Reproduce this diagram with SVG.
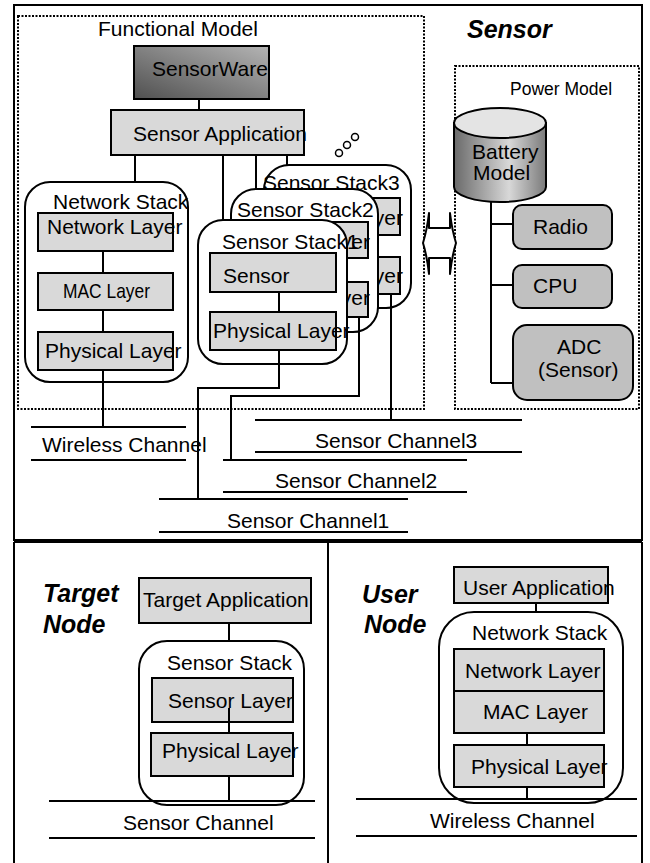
<svg xmlns="http://www.w3.org/2000/svg" width="650" height="863" viewBox="0 0 650 863">
<defs>
<style>
.frame{fill:none;stroke:#000;stroke-width:2}
.dot{fill:none;stroke:#000;stroke-width:2;stroke-dasharray:2 1.5}
.layer{fill:#d9d9d9;stroke:#000;stroke-width:2}
.stack{fill:#fff;stroke:#000;stroke-width:2}
.pw{fill:#c0c0c0;stroke:#000;stroke-width:2}
.t{font-family:"Liberation Sans",Arial,sans-serif;font-size:21px;fill:#000}
.bi{font-weight:bold;font-style:italic;font-size:25px}
.c{stroke:#000;stroke-width:2;fill:none}
</style>
<linearGradient id="gw" x1="1" y1="0" x2="0" y2="1">
<stop offset="0" stop-color="#b4b4b4"/>
<stop offset="1" stop-color="#505050"/>
</linearGradient>
<linearGradient id="gb" x1="0" y1="0" x2="1" y2="0">
<stop offset="0" stop-color="#6a6a6a"/>
<stop offset="0.6" stop-color="#d8d8d8"/>
<stop offset="1" stop-color="#7a7a7a"/>
</linearGradient>
</defs>
<rect width="650" height="863" fill="#fff"/>

<g id="frames">
<rect class="frame" x="14" y="5" width="628" height="535"/>
<path class="frame" d="M14,542 H642 M14,542 V863 M328,542 V863 M642,542 V863"/>
<rect id="functional-model" class="dot" x="18" y="16" width="406" height="393"/>
<rect id="power-model" class="dot" x="455" y="66" width="184" height="343"/>
<text class="t" x="98" y="36">Functional Model</text>
<text class="t bi" x="467" y="38">Sensor</text>
<text class="t" x="510" y="95" style="font-size:17.5px">Power Model</text>
<text class="t bi" x="43" y="602">Target</text>
<text class="t bi" x="43" y="633">Node</text>
<text class="t bi" x="362" y="603">User</text>
<text class="t bi" x="364" y="633">Node</text>
</g>

<g id="sensorware">
<rect x="134" y="46" width="135" height="53" fill="url(#gw)" stroke="#000" stroke-width="2"/>
<text class="t" x="152" y="76">SensorWare</text>
</g>
<g id="sensor-application">
<rect class="layer" x="111" y="110" width="193" height="45"/>
<text class="t" x="133" y="141">Sensor Application</text>
</g>

<g id="network-stack">
<rect class="stack" x="25" y="182" width="163" height="200" rx="25"/>
<text class="t" x="53" y="209">Network Stack</text>
<rect class="layer" x="38" y="213" width="135" height="38"/>
<text class="t" x="47" y="234">Network Layer</text>
<rect class="layer" x="38" y="273" width="135" height="37"/>
<text class="t" x="63" y="298" textLength="87" lengthAdjust="spacingAndGlyphs">MAC Layer</text>
<rect class="layer" x="38" y="332" width="135" height="38"/>
<text class="t" x="45" y="358">Physical Layer</text>
</g>

<g id="sensor-stack3">
<rect class="stack" x="264" y="165" width="147" height="143" rx="25"/>
<text class="t" x="263" y="190">Sensor Stack3</text>
<rect class="layer" x="290" y="198" width="110" height="37"/>
<text class="t" x="403" y="225" text-anchor="end">Sensor Layer</text>
<rect class="layer" x="290" y="257" width="110" height="37"/>
<text class="t" x="403" y="283" text-anchor="end">Physical Layer</text>
</g>
<g id="sensor-stack2">
<rect class="stack" x="231" y="189" width="147" height="143" rx="25"/>
<text class="t" x="237" y="217">Sensor Stack2</text>
<rect class="layer" x="250" y="222" width="118" height="36"/>
<text class="t" x="370" y="249" text-anchor="end">Sensor Layer</text>
<rect class="layer" x="250" y="282" width="118" height="35"/>
<text class="t" x="370" y="305" text-anchor="end">Physical Layer</text>
</g>
<g id="sensor-stack1">
<rect class="stack" x="198" y="220" width="149" height="144" rx="25"/>
<rect class="layer" x="210" y="253" width="126" height="39"/>
<text class="t" x="223" y="283">Sensor</text>
<rect class="layer" x="210" y="312" width="126" height="38"/>
<text class="t" x="213" y="338">Physical Layer</text>
<text class="t" x="222" y="249">Sensor Stack1</text>
</g>
<g id="more-stacks">
<circle cx="339" cy="153" r="3.5" fill="#fff" stroke="#000" stroke-width="1.5"/>
<circle cx="347" cy="145" r="3.5" fill="#fff" stroke="#000" stroke-width="1.5"/>
<circle cx="355" cy="137" r="3.5" fill="#fff" stroke="#000" stroke-width="1.5"/>
</g>

<g id="exchange-arrow">
<path d="M429,213 V228 H450 V213 Q452,230 456,243 Q452,256 450,274 V258 H429 V274 Q427,256 423,243 Q427,230 429,213 Z" fill="#fff" stroke="#000" stroke-width="2" stroke-linejoin="round"/>
</g>

<g id="battery-model">
<path d="M454,123 V187 A46,15 0 0 0 546,187 V123 Z" fill="url(#gb)" stroke="#000" stroke-width="2"/>
<ellipse cx="500" cy="123" rx="46" ry="15" fill="#e4e4e4" stroke="#000" stroke-width="2"/>
<text class="t" x="472" y="159">Battery</text>
<text class="t" x="473" y="180">Model</text>
</g>
<g id="radio">
<rect class="pw" x="513" y="205" width="99" height="44" rx="9"/>
<text class="t" x="533" y="234">Radio</text>
</g>
<g id="cpu">
<rect class="pw" x="513" y="265" width="99" height="43" rx="9"/>
<text class="t" x="533" y="293">CPU</text>
</g>
<g id="adc">
<rect class="pw" x="513" y="325" width="120" height="75" rx="14"/>
<text class="t" x="557" y="354">ADC</text>
<text class="t" x="538" y="377">(Sensor)</text>
</g>

<g id="channels">
<path class="c" d="M31,427 H186 M31,460 H186"/>
<text class="t" x="42" y="452">Wireless Channel</text>
<path class="c" d="M255,420 H522 M255,452 H522"/>
<text class="t" x="315" y="448">Sensor Channel3</text>
<path class="c" d="M223,460 H467 M223,492 H467"/>
<text class="t" x="275" y="488">Sensor Channel2</text>
<path class="c" d="M159,499 H408 M159,532 H408"/>
<text class="t" x="227" y="528">Sensor Channel1</text>
</g>

<g id="target-node">
<rect class="layer" x="139" y="578" width="172" height="45"/>
<text class="t" x="143" y="607">Target Application</text>
<rect class="stack" x="139" y="641" width="165" height="164" rx="28"/>
<text class="t" x="167" y="670">Sensor Stack</text>
<rect class="layer" x="152" y="678" width="141" height="44"/>
<text class="t" x="168" y="708">Sensor Layer</text>
<rect class="layer" x="151" y="733" width="142" height="43"/>
<text class="t" x="162" y="758">Physical Layer</text>
<path class="c" d="M49,801 H315 M49,838 H315"/>
<text class="t" x="123" y="830">Sensor Channel</text>
</g>

<g id="user-node">
<rect class="layer" x="454" y="567" width="154" height="36"/>
<text class="t" x="463" y="595">User Application</text>
<rect class="stack" x="439" y="612" width="184" height="191" rx="35"/>
<text class="t" x="472" y="640">Network Stack</text>
<rect class="layer" x="454" y="649" width="150" height="42"/>
<text class="t" x="465" y="678">Network Layer</text>
<rect class="layer" x="454" y="691" width="150" height="42"/>
<text class="t" x="483" y="719">MAC Layer</text>
<rect class="layer" x="454" y="745" width="150" height="42"/>
<text class="t" x="471" y="774">Physical Layer</text>
<path class="c" d="M356,799 H637 M356,836 H637"/>
<text class="t" x="430" y="828">Wireless Channel</text>
</g>

<g id="connectors">
<path class="c" d="M199,99 V110"/>
<path class="c" d="M135,155 V182"/>
<path class="c" d="M223,155 V220"/>
<path class="c" d="M256,155 V189"/>
<path class="c" d="M287,155 V165"/>
<path class="c" d="M103,251 V273 M103,310 V332 M103,370 V427"/>
<path class="c" d="M279,292 V312 M279,350 V388 H198 V499"/>
<path class="c" d="M359,317 V396 H231 V460"/>
<path class="c" d="M391,294 V420"/>
<path class="c" d="M491,202 V383 M491,224 H513 M491,285 H513 M491,383 H513"/>
<path class="c" d="M229,623 V641 M229,708 V733 M229,776 V801"/>
<path class="c" d="M536,603 V612 M527,733 V745 M527,787 V799"/>
</g>
</svg>
